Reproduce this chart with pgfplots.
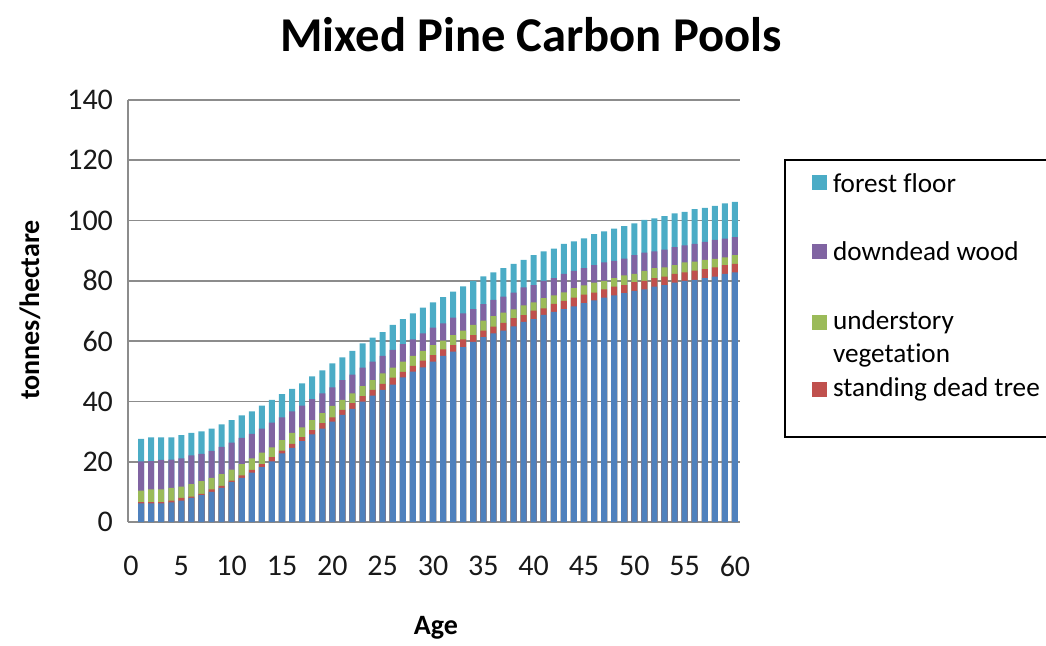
\documentclass[border=0pt]{standalone}
\usepackage{pgfplots}
\pgfplotsset{compat=1.18}
\usepackage{pgfplotstable}
\usepackage{fontspec}
\setmainfont{Carlito}[Ligatures={NoCommon}]
\definecolor{cBlue}{HTML}{4F81BD}
\definecolor{cRed}{HTML}{C0504D}
\definecolor{cGreen}{HTML}{9BBB59}
\definecolor{cPurple}{HTML}{8064A2}
\definecolor{cTeal}{HTML}{4BACC6}
\definecolor{cGrid}{HTML}{8C8C8C}
% cumulative tops of the stacked bars: B live tree, R +standing dead, G +understory, P +downdead, T +forest floor
\pgfplotstableread{
x B R G P T
1 6.2 6.6 10.4 20.1 27.6
2 6.2 6.6 10.8 20.2 28.1
3 6.2 6.6 10.8 20.6 28.1
4 6.5 7.1 11.3 20.7 28.1
5 7.1 8.0 11.7 21.1 28.8
6 8.0 8.4 12.6 22.1 29.6
7 8.9 9.3 13.6 22.6 30.1
8 10.0 10.8 14.6 23.6 31.0
9 11.3 12.0 15.9 24.9 32.4
10 13.2 13.7 17.4 26.3 33.8
11 14.6 15.5 19.2 27.9 35.4
12 16.4 17.3 21.1 29.2 36.7
13 18.2 19.2 23.0 31.0 38.6
14 20.1 21.5 24.8 33.0 40.5
15 22.8 23.7 27.2 34.7 42.4
16 24.6 25.9 29.6 36.7 44.2
17 26.8 28.2 31.4 38.6 46.0
18 29.1 30.5 33.8 40.8 48.3
19 31.0 32.8 36.1 42.7 50.3
20 33.3 34.7 38.5 44.7 52.6
21 35.5 37.2 40.5 47.1 54.6
22 37.5 39.4 42.7 48.9 56.8
23 39.9 41.8 45.1 51.2 59.3
24 41.9 43.8 47.1 53.2 61.2
25 43.8 45.8 49.3 55.1 63.0
26 45.6 47.9 51.2 57.1 65.4
27 48.0 49.8 53.2 59.0 67.3
28 49.9 51.8 55.1 60.6 69.2
29 51.3 53.5 56.8 62.6 71.1
30 53.2 55.4 58.7 64.5 72.9
31 55.1 57.3 60.2 65.9 74.6
32 56.5 58.7 62.0 67.8 76.4
33 58.0 60.6 63.5 69.2 78.2
34 59.8 62.0 65.4 70.6 80.0
35 61.3 63.5 66.8 72.3 81.5
36 62.6 64.8 68.3 73.7 82.8
37 63.5 66.1 69.5 74.8 84.2
38 64.9 67.6 70.5 76.1 85.6
39 66.4 68.6 71.9 77.8 87.0
40 67.3 70.1 72.9 78.6 88.5
41 68.7 70.9 74.3 80.0 89.8
42 69.7 72.4 75.2 80.9 90.7
43 70.6 73.4 76.2 82.3 92.3
44 71.5 74.4 77.6 83.3 93.1
45 72.6 75.4 78.5 84.2 94.1
46 73.5 76.1 79.4 85.2 95.5
47 74.4 77.2 80.0 86.1 96.4
48 75.2 78.1 80.9 86.6 97.3
49 75.9 78.6 81.8 87.4 98.2
50 76.7 79.6 82.3 88.5 99.1
51 77.2 80.0 83.3 89.4 100.2
52 78.1 80.9 84.2 89.8 100.7
53 78.6 81.4 84.5 90.4 101.5
54 79.4 82.3 85.2 91.2 102.4
55 80.0 82.8 86.1 91.8 102.9
56 80.3 83.4 86.4 92.3 103.8
57 80.9 83.9 87.0 92.9 104.2
58 81.4 84.5 87.3 93.6 104.9
59 82.3 85.2 87.8 94.0 105.7
60 82.8 85.6 88.5 94.5 106.2
}\data
\begin{document}
\begin{tikzpicture}
\begin{axis}[
  at={(0,0)}, anchor=south west,
  scale only axis, width=306pt, height=211pt,
  xmin=-0.3, xmax=60.5, ymin=0, ymax=140,
  xtick={0,5,...,60}, ytick={0,20,...,140},
  ymajorgrids,
  major grid style={draw=cGrid, line width=0.8pt},
  axis x line*=bottom, axis y line*=left,
  axis line style={draw=cGrid, line width=0.8pt, -},
  major tick length=0pt,
  tick label style={font=\fontsize{15}{18}\selectfont, text=black!90},
  /pgf/number format/assume math mode=true,
  xticklabel style={yshift=-13.5pt},
  yticklabel style={xshift=-4pt},
]
\addplot[ybar, bar width=0.6, bar shift=0pt, fill=cTeal, draw=none] table[x=x,y=T]{\data};
\addplot[ybar, bar width=0.6, bar shift=0pt, fill=cPurple, draw=none] table[x=x,y=P]{\data};
\addplot[ybar, bar width=0.6, bar shift=0pt, fill=cGreen, draw=none] table[x=x,y=G]{\data};
\addplot[ybar, bar width=0.6, bar shift=0pt, fill=cRed, draw=none] table[x=x,y=R]{\data};
\addplot[ybar, bar width=0.6, bar shift=0pt, fill=cBlue, draw=none] table[x=x,y=B]{\data};
\end{axis}
% title and axis labels
\node[font=\fontsize{24.3}{28}\selectfont\bfseries] at (201.5pt,243.5pt) {Mixed Pine Carbon Pools};
\node[font=\fontsize{14}{17}\selectfont\bfseries] at (154pt,-53pt) {Age};
\node[font=\fontsize{14}{17}\selectfont\bfseries, rotate=90] at (-49pt,106pt) {tonnes/hectare};
% legend
\draw[black, line width=0.6pt] (328.5pt,181pt) rectangle (480pt,42.5pt);
\fill[cTeal] (341.75pt,165.85pt) rectangle (349.25pt,173.35pt);
\fill[cPurple] (341.75pt,131.45pt) rectangle (349.25pt,138.95pt);
\fill[cGreen] (341.75pt,96.15pt) rectangle (349.25pt,103.65pt);
\fill[cRed] (341.75pt,62.65pt) rectangle (349.25pt,70.15pt);
\begin{scope}[every node/.style={font=\fontsize{13.6}{16}\selectfont, anchor=west, inner sep=0pt}]
\node at (352.3pt,169.6pt) {forest floor};
\node at (352.3pt,135.2pt) {downdead wood};
\node at (352.3pt,99.9pt) {understory};
\node at (352.3pt,83.5pt) {vegetation};
\node at (352.3pt,66.4pt) {standing dead tree};
\end{scope}
\pgfresetboundingbox
\useasboundingbox (-64pt,-61.5pt) rectangle (459pt,261pt);
\end{tikzpicture}
\end{document}
